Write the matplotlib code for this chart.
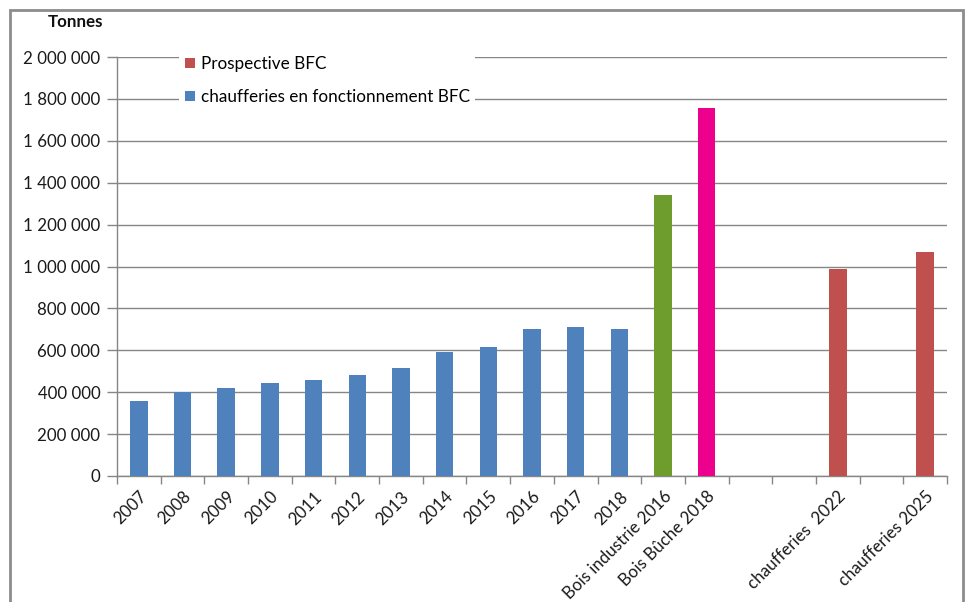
import matplotlib
matplotlib.use("Agg")
import matplotlib.pyplot as plt
from matplotlib.patches import Rectangle, Patch
import numpy as np

categories = ["2007", "2008", "2009", "2010", "2011", "2012", "2013", "2014",
              "2015", "2016", "2017", "2018", "Bois industrie 2016", "Bois Bûche 2018",
              "", "", "chaufferies  2022", "", "chaufferies 2025"]
values = [358000, 400000, 420000, 442000, 460000, 481000, 515000, 592000,
          617000, 702000, 711000, 702000, 1340000, 1758000,
          np.nan, np.nan, 989000, np.nan, 1071000]
bar_colors = ["#4F81BD"] * 12 + ["#6E9D2E", "#EC008C", "#C0504D", "#C0504D",
                                  "#C0504D", "#C0504D", "#C0504D"]
yticks = [0, 200000, 400000, 600000, 800000, 1000000, 1200000, 1400000,
          1600000, 1800000, 2000000]
ytick_labels = ["0", "200 000", "400 000", "600 000", "800 000", "1 000 000",
                "1 200 000", "1 400 000", "1 600 000", "1 800 000", "2 000 000"]
legend_labels = ["Prospective BFC", "chaufferies en fonctionnement BFC"]
legend_colors = ["#C0504D", "#4F81BD"]

plt.rcParams['font.family'] = ['Lato', 'DejaVu Sans']

fig = plt.figure(figsize=(9.68, 6.02), dpi=100)
ax = fig.add_axes([117/968, 1-476/602, (947-117)/968, (476-57)/602])

x = np.arange(len(categories))
ax.bar(x, values, width=0.4, color=bar_colors, zorder=3)

ax.set_xlim(-0.5, len(categories) - 0.5)
ax.set_ylim(0, 2000000)
ax.set_yticks(yticks)
ax.set_yticklabels(ytick_labels, fontsize=12.2, color="#1a1a1a")
ax.set_xticks(x)
ax.set_xticklabels(categories, rotation=45, ha='right', va='top',
                   rotation_mode='anchor', fontsize=12.2, color="#1a1a1a")
ax.tick_params(axis='x', length=0, pad=9)
ax.set_xticks(np.arange(-0.5, len(categories), 1), minor=True)
ax.tick_params(axis='x', which='minor', length=6, color="#868686", width=1)
ax.tick_params(axis='y', length=7, color="#868686", width=1, pad=5)

ax.grid(axis='y', color="#868686", lw=1, zorder=0)
for s in ['top', 'right']:
    ax.spines[s].set_visible(False)
for s in ['left', 'bottom']:
    ax.spines[s].set_color("#868686")
    ax.spines[s].set_linewidth(1)

handles = [Patch(facecolor=c, edgecolor='none') for c in legend_colors]
leg = ax.legend(handles, legend_labels, loc='upper left',
                bbox_to_anchor=(0.065, 1.035), frameon=True, fontsize=12.3,
                handlelength=0.6, handleheight=0.6, handletextpad=0.35,
                labelspacing=1.0, borderpad=0.3, fancybox=False)
leg.get_frame().set_facecolor('white')
leg.get_frame().set_edgecolor('none')
leg.get_frame().set_alpha(1)
leg.set_zorder(5)

fig.text(48/968, 1-22/602, "Tonnes", fontsize=12.2, fontweight='bold',
         va='center', ha='left', color="#111111")

fig.patches.append(Rectangle((10/968, -0.05), (963-10)/968, 1.05 - 10/602,
                             transform=fig.transFigure, fill=False,
                             edgecolor="#8c8c8c", lw=2))

fig.savefig("out.png", dpi=100)
